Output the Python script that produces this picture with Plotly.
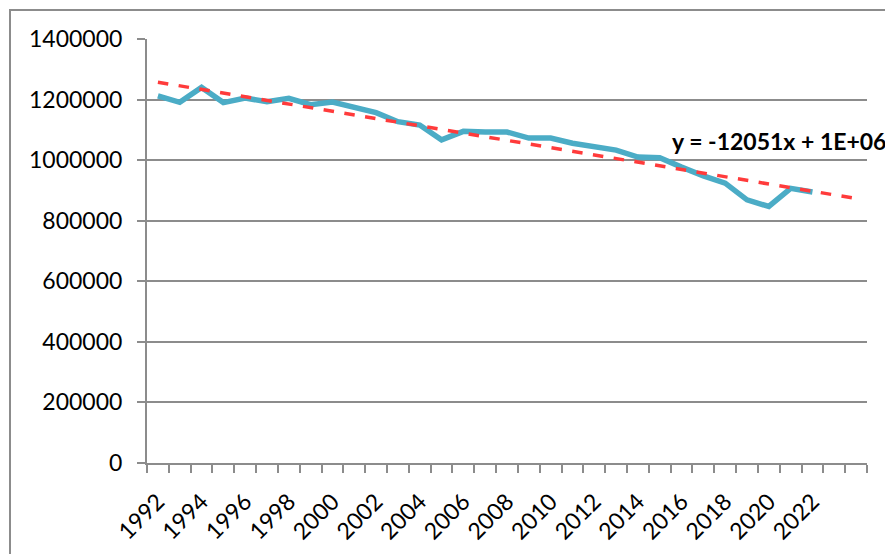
import numpy as np
import plotly.graph_objects as go

years = list(range(1992, 2023))
values = [1212000, 1191000, 1240000, 1190000, 1205000, 1193000, 1204000, 1183000,
          1192000, 1175000, 1157000, 1127000, 1116000, 1067000, 1095000, 1093000,
          1093000, 1073000, 1073000, 1056000, 1044000, 1033000, 1010000, 1008000,
          977000, 948000, 924000, 869000, 847000, 907000, 895000]
forecast_periods = 2
tick_labels = [str(y) for y in range(1992, 2023, 2)]
y_ticks = list(range(0, 1400001, 200000))
trend_text = "y = -12051x + 1E+06"

# linear trendline (Excel style: x = 1..n), extended 2 periods forward
n = len(values)
xi = np.arange(1, n + 1)
slope, intercept = np.polyfit(xi, values, 1)
trend_x_idx = np.arange(1, n + forecast_periods + 1)
trend_years = [years[0] + i - 1 for i in trend_x_idx]
trend_vals = slope * trend_x_idx + intercept

FONT = "Lato"
GRID = "#8c8c8c"

# page body has an 8px margin; figure sized to fit the 893x554 window
W, H = 885, 546
L, R, T, B = 139, 26, 31, 91
PW, PH = W - L - R, H - T - B

fig = go.Figure()
fig.add_trace(go.Scatter(x=years, y=values, mode="lines",
                         line=dict(color="#4BACC6", width=5.5), showlegend=False))
fig.add_trace(go.Scatter(x=trend_years, y=trend_vals, mode="lines",
                         line=dict(color="#FF3B3B", width=3.5, dash="dash"),
                         showlegend=False))

x_lo = years[0] - 0.5
x_hi = years[-1] + forecast_periods + 0.5
fig.update_layout(
    width=W, height=H,
    margin=dict(l=L, r=R, t=T, b=B, autoexpand=False),
    paper_bgcolor="white", plot_bgcolor="white",
    font=dict(family=FONT, size=23, color="black"),
    xaxis=dict(range=[x_lo, x_hi], tickmode="array", tickvals=list(range(1992, 2023, 2)),
               ticktext=tick_labels, tickangle=-45, ticks="", showgrid=False,
               showline=True, linecolor=GRID, linewidth=2, zeroline=False,
               ticklabelstandoff=14,
               minor=dict(tickmode="array",
                          tickvals=[x_lo + k for k in range(int(x_hi - x_lo) + 1)],
                          ticks="outside", ticklen=8, tickcolor=GRID, tickwidth=2,
                          showgrid=False),
               tickfont=dict(family=FONT, size=23)),
    yaxis=dict(range=[0, 1400000], tickmode="array", tickvals=y_ticks,
               ticktext=[str(v) for v in y_ticks], ticks="outside", ticklen=8,
               tickcolor=GRID, tickwidth=2, showgrid=True, gridcolor=GRID,
               gridwidth=2, showline=True, linecolor=GRID, linewidth=2,
               zeroline=False, ticklabelstandoff=10,
               tickfont=dict(family=FONT, size=23)),
)

fig.add_annotation(text="<b>" + trend_text + "</b>", xref="paper", yref="paper",
                   x=(W - 5 - L) / PW, y=(H - B - 133) / PH, xanchor="right",
                   yanchor="middle", showarrow=False,
                   font=dict(family=FONT, size=23, color="black"))

# chart frame border
fig.add_shape(type="rect", xref="paper", yref="paper",
              x0=(2 - L) / PW, x1=1.2, y0=-0.5, y1=1 + (T - 2) / PH,
              line=dict(color="#8c8c8c", width=2), fillcolor="rgba(0,0,0,0)",
              layer="below")

fig.write_html("out.html")
